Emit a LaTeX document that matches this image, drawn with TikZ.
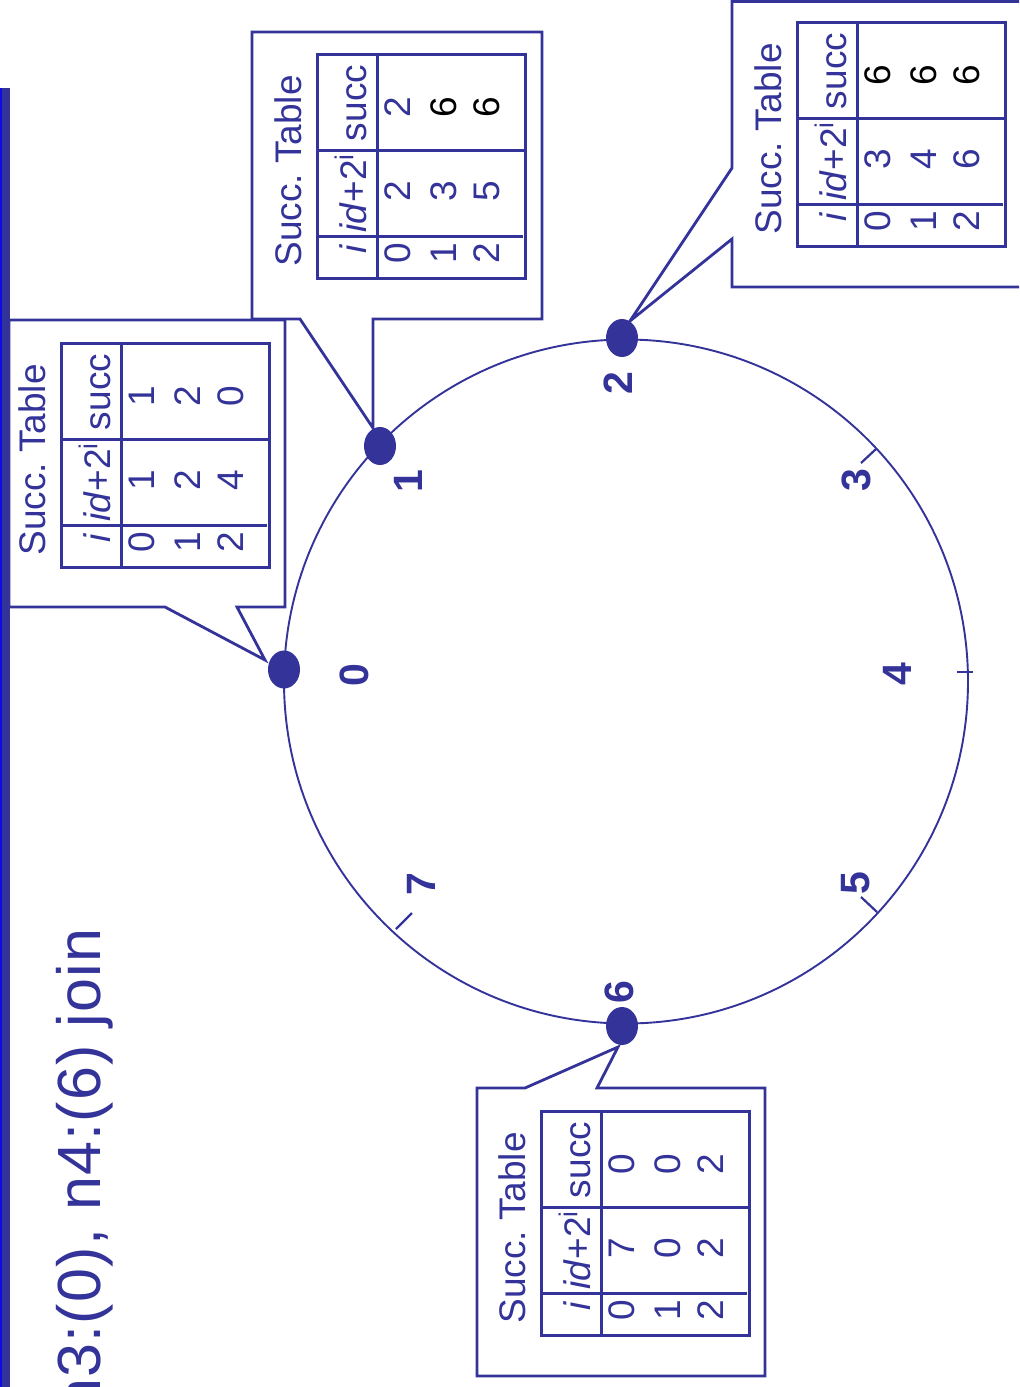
\documentclass[tikz,border=0pt]{standalone}
\usepackage{fontspec}
\setmainfont{Liberation Sans}
\usetikzlibrary{shapes.geometric}
\definecolor{navy}{RGB}{51,51,153}
\definecolor{barblue}{RGB}{12,12,230}
\tikzset{
  tabtxt/.style={rotate=90, anchor=base, inner sep=0pt, text=navy, font=\fontsize{18.5}{22}\selectfont},
  lbl/.style={rotate=90, anchor=center, inner sep=0pt, text=navy, font=\fontsize{20.5}{24}\selectfont\bfseries},
  frame/.style={draw=navy, line width=1.5pt},
  callout/.style={draw=navy, line width=1.4pt, fill=white, line join=miter},
  dot/.style={ellipse, fill=navy, minimum width=16pt, minimum height=19pt, inner sep=0pt},
  tickmark/.style={draw=navy, line width=1.1pt},
  ring/.style={draw=navy, line width=0.95pt},
}
\newcommand\succtab[9]{%
  \begin{scope}[shift={(#2,#3)}]
    \draw[frame] (0,0) rectangle (208,224);
    \draw[frame] (60,0) -- (60,224);
    \draw[frame] (0,96) -- (208,96);
    \draw[frame] (0,182) -- (206,182);
    \node[tabtxt] (#1title) at (-16,117) {Succ.\ Table};
    \node[tabtxt] (#1hs) at (49,49) {succ};
    \node[tabtxt] (#1hd) at (49,139) {\textit{id}+2\textsuperscript{i}};
    \node[tabtxt] (#1hi) at (49,195) {\textit{i}};
    \node[tabtxt] (#1ia) at (93,199) {0};
    \node[tabtxt] (#1ib) at (139,199) {1};
    \node[tabtxt] (#1ic) at (182,199) {2};
    \node[tabtxt] (#1da) at (93,137) {#4};
    \node[tabtxt] (#1db) at (139,137) {#5};
    \node[tabtxt] (#1dc) at (182,137) {#6};
    \node[tabtxt] (#1sa) at (93,53) {#7};
    \node[tabtxt] (#1sb) at (139,53) {#8};
    \node[tabtxt] (#1sc) at (182,53) {#9};
  \end{scope}}
\begin{document}
\begin{tikzpicture}[x=0.5pt, y=-0.5pt]
  \useasboundingbox (0,0) rectangle (1019,1387);
  \clip (0,0) rectangle (1019,1387);
  \fill[white] (0,0) rectangle (1019,1387);
  % ring
  \coordinate (c) at (626,681.5);
  \draw[ring] (c) circle [radius=171pt];
  % ticks
  \draw[tickmark] (861,463) -- (876,449);
  \draw[tickmark] (957,672) -- (973,672);
  \draw[tickmark] (861,897) -- (877,912);
  \draw[tickmark] (412,913) -- (396,929);
  % position labels
  \node[lbl] (l0) at (354,675) {0};
  \node[lbl] (l1) at (408,481) {1};
  \node[lbl] (l2) at (618,383) {2};
  \node[lbl] (l3) at (856,480) {3};
  \node[lbl] (l4) at (897,674) {4};
  \node[lbl] (l5) at (856,883) {5};
  \node[lbl] (l6) at (619,992) {6};
  \node[lbl] (l7) at (421,884) {7};
  % callout tips
  \coordinate (p0) at (265,660);
  \coordinate (p1) at (373,428);
  \coordinate (p2) at (630,321);
  \coordinate (p6) at (618,1047);
  % callouts
  \draw[callout] (9,320) -- (285,320) -- (285,607) -- (237,607) -- (p0) -- (165,607) -- (9,607) -- cycle;
  \draw[callout] (252,32) -- (542,32) -- (542,319) -- (373,319) -- (p1) -- (300,319) -- (252,319) -- cycle;
  \draw[callout] (732,1.5) -- (1030,1.5) -- (1030,287) -- (732,287) -- (732,239) -- (p2) -- (732,168) -- cycle;
  \draw[callout] (477,1088) -- (525,1088) -- (p6) -- (597,1088) -- (765,1088) -- (765,1376) -- (477,1376) -- cycle;
  % tables
  \succtab{ta}{61}{343}{1}{2}{4}{1}{2}{0}
  \succtab{tb}{317}{54}{2}{3}{5}{2}{\color{black}6}{\color{black}6}
  \succtab{tc}{797}{22}{3}{4}{6}{\color{black}6}{\color{black}6}{\color{black}6}
  \succtab{td}{541}{1111}{7}{0}{2}{0}{0}{2}
  % left bar
  \fill[navy] (0,88) rectangle (9.5,1400);
  \fill[barblue] (0,88) rectangle (2.3,1400);
  % slide title (cut off at the lower edge, as in the slide)
  \node[rotate=90, anchor=base east, inner sep=0pt, text=navy, font=\fontsize{30.5}{36}\selectfont\addfontfeature{LetterSpace=2}] (title) at (100,928) {n3:(0), n4:(6) join};
  % nodes on the ring
  \node[dot] (n0) at (284,669.5) {};
  \node[dot] (n1) at (380,446) {};
  \node[dot] (n2) at (622,338) {};
  \node[dot] (n6) at (622,1026) {};
\end{tikzpicture}
\end{document}
